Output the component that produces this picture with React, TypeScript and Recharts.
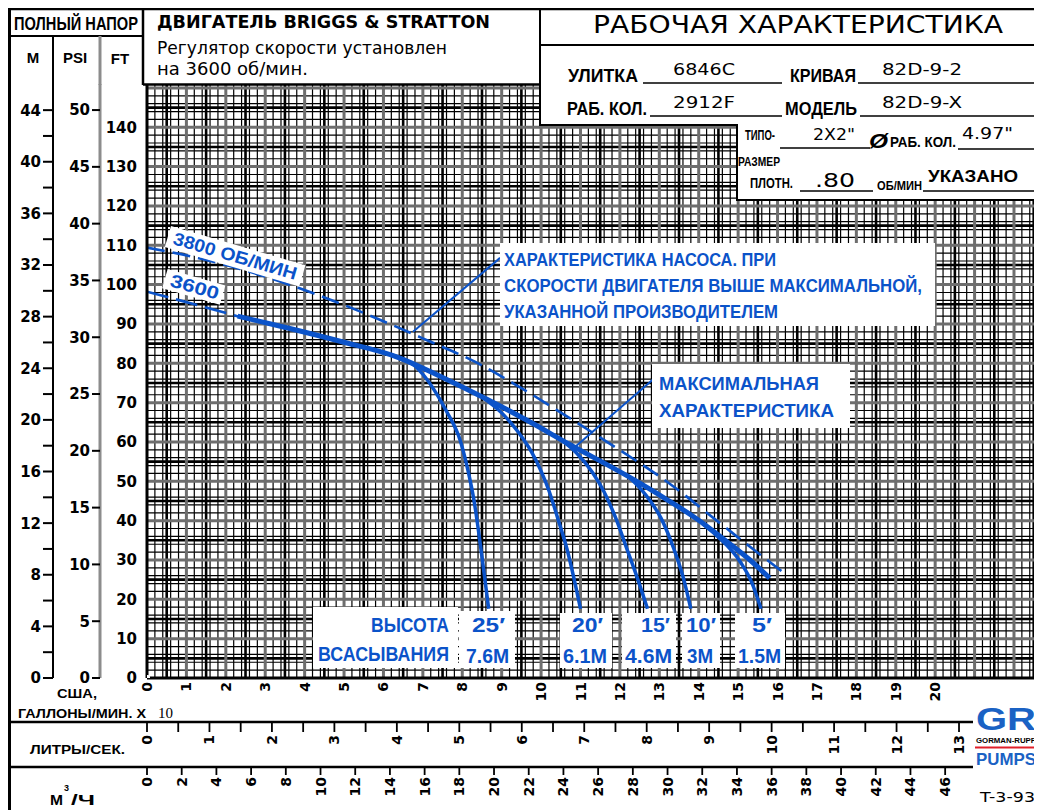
import React from "react";
import { LineChart, Line, XAxis, YAxis, CartesianGrid, ReferenceLine } from "recharts";

const W = 1034;
const H = 802;
const BLUE = "#0b53c9";
const SANS = "'Liberation Sans', Arial, sans-serif";
const DJ = "'DejaVu Sans', Verdana, sans-serif";
const SERIF = "'Liberation Serif', 'DejaVu Serif', serif";

// ---- axis ranges / unit relations ----
const FT_MAX = 151;
const GPM10_MAX = 22.66; // US GPM x 10
const FT_PER_M = 3.2808;
const FT_PER_PSI = 2.31 / 0.8; // specific gravity .80
const GPM_PER_LPS = 15.85;
const GPM_PER_M3H = 4.4029;
const LPS_MAX = (GPM10_MAX * 10) / GPM_PER_LPS;
const M3_MAX = (GPM10_MAX * 10) / GPM_PER_M3H;

// ---- tick labels ----
const ftTicks = [0, 10, 20, 30, 40, 50, 60, 70, 80, 90, 100, 110, 120, 130, 140];
const psiTicks = [0, 5, 10, 15, 20, 25, 30, 35, 40, 45, 50];
const mTicks = [0, 2, 4, 6, 8, 10, 12, 14, 16, 18, 20, 22, 24, 26, 28, 30, 32, 34, 36, 38, 40, 42, 44];
const gpmTicks = [0, 1, 2, 3, 4, 5, 6, 7, 8, 9, 10, 11, 12, 13, 14, 15, 16, 17, 18, 19, 20];
const lpsTicks = [0, 0.5, 1, 1.5, 2, 2.5, 3, 3.5, 4, 4.5, 5, 5.5, 6, 6.5, 7, 7.5, 8, 8.5, 9, 9.5, 10, 10.5, 11, 11.5, 12, 12.5, 13];
const m3Ticks = [0, 2, 4, 6, 8, 10, 12, 14, 16, 18, 20, 22, 24, 26, 28, 30, 32, 34, 36, 38, 40, 42, 44, 46];

// ---- curves: [US GPM x10, total head ft] ----
const rpm3800 = [[0, 109.4], [1.2, 107.0], [2.36, 104.0], [4.22, 97.8], [6.35, 89.2], [7.12, 85.8], [8.28, 80.6], [9.48, 73.8], [10.83, 65.4], [11.77, 59.4], [13.29, 49.2], [14.56, 39.2], [15.4, 32.6], [16.16, 26.7]];
const rpm3600Start = [[0, 98.2], [1.2, 95.0], [2.36, 91.8]];
const maxCurve = [[2.3, 92.0], [3.6, 88.9], [4.9, 85.6], [6.4, 81.4], [7.5, 76.4], [8.6, 71.0], [9.7, 65.2], [10.7, 59.5], [12.2, 51.3], [13.2, 45.3], [13.9, 40.8], [14.7, 34.8], [15.3, 30.0], [15.8, 25.4]];
const lift25 = [[6.3, 81.8], [6.8, 79.3], [7.27, 73.5], [7.6, 67.8], [7.95, 60.3], [8.15, 52.5], [8.3, 45.0], [8.5, 30.8], [8.67, 17.6]];
const lift20 = [[8.5, 71.5], [9.0, 67.4], [9.4, 62.8], [9.75, 57.6], [10.0, 52.6], [10.2, 47.6], [10.42, 40.7], [10.67, 32.3], [11.0, 17.6]];
const lift15 = [[10.5, 60.6], [10.9, 57.2], [11.3, 52.3], [11.6, 47.3], [11.9, 40.5], [12.2, 32.2], [12.45, 25.2], [12.7, 17.6]];
const lift10 = [[12.2, 51.3], [12.5, 48.4], [12.8, 44.6], [13.04, 40.7], [13.37, 32.8], [13.6, 25.8], [13.8, 17.6]];
const lift5 = [[14.1, 39.2], [14.5, 35.8], [15.07, 29.3], [15.35, 24.2], [15.58, 17.6]];

// callout leader lines [from, to] in (GPM x10, ft)
const leaders = [
  [[8.96, 106.8], [6.75, 88.0]],
  [[12.89, 76.3], [10.86, 58.7]],
];

const toPts = (a: number[][]) => a.map(([u, ft]) => ({ u, ft }));

// graph-paper rulings
const range = (n: number, f: (i: number) => number) => Array.from({ length: n }, (_, i) => f(i));
const minorX = range(113, (i) => Math.round((i + 1) * 2) / 10);
const halfX = range(23, (i) => i + 0.5);
const majorX = range(22, (i) => i + 1);
const minorY = range(75, (i) => (i + 1) * 2);
const halfY = range(15, (i) => i * 10 + 5);
const majorY = range(15, (i) => (i + 1) * 10);

const GpmTick = ({ x, y, payload }: any) => (
  <text x={x} y={y} transform={`rotate(-90 ${x} ${y})`} textAnchor="end" dy="0.36em" fontFamily={DJ} fontWeight="bold" fontSize={14} fill="#000">
    {payload.value}
  </text>
);
const LpsTick = ({ x, y, payload }: any) =>
  Number.isInteger(payload.value) ? (
    <text x={x} y={y} transform={`rotate(-90 ${x} ${y})`} textAnchor="end" dy="0.36em" fontFamily={DJ} fontWeight="bold" fontSize={14} fill="#000">
      {payload.value}
    </text>
  ) : (
    <g />
  );
const makeYTick = (step: number) => ({ x, y, payload }: any) =>
  payload.value % step === 0 ? (
    <text x={x} y={y} dy="0.36em" textAnchor="end" fontFamily={DJ} fontWeight="bold" fontSize={15} fill="#000">
      {payload.value}
    </text>
  ) : (
    <g />
  );
const FtTick = makeYTick(10);
const PsiTick = makeYTick(5);
const MTick = makeYTick(4);

const T = ({ x, y, w, size, bold, fill = "#000", family = SANS, anchor = "start", italic, children }: any) => (
  <text
    x={x}
    y={y}
    fontSize={size}
    fontWeight={bold ? "bold" : "normal"}
    fontStyle={italic ? "italic" : "normal"}
    fontFamily={family}
    fill={fill}
    textAnchor={anchor}
    textLength={w}
    lengthAdjust={w ? "spacingAndGlyphs" : undefined}
  >
    {children}
  </text>
);
const Ln = ({ x1, y1, x2, y2, w = 2, c = "#000" }: any) => <line x1={x1} y1={y1} x2={x2} y2={y2} stroke={c} strokeWidth={w} />;
const Box = ({ x, y, w, h }: any) => <rect x={x} y={y} width={w} height={h} fill="#fff" />;

const Overlay = () => (
  <svg style={{ position: "absolute", left: 0, top: 0, pointerEvents: "none" }} width={W} height={H} viewBox={`8 8 ${W} ${H}`}>
    {/* header backgrounds over the grid */}
    <Box x={541} y={9} w={502} h={116} />
    <Box x={738} y={125} w={305} h={75} />

    {/* frame lines */}
    <Ln x1={9.5} y1={8} x2={9.5} y2={810} w={3} />
    <Ln x1={8} y1={9} x2={1042} y2={9} w={2.5} />
    <Ln x1={8} y1={36} x2={143} y2={36} w={2} />
    <Ln x1={143} y1={8} x2={143} y2={85} w={2.5} />
    <Ln x1={53} y1={36} x2={53} y2={85} w={2} />
    <Ln x1={100} y1={36} x2={100} y2={85} w={3} c="#8c8c8c" />
    <Ln x1={143} y1={84.5} x2={541} y2={84.5} w={2.5} />
    <Ln x1={540} y1={8} x2={540} y2={126} w={2} />
    <Ln x1={540} y1={45} x2={1042} y2={45} w={2} />
    <Ln x1={540} y1={125} x2={738} y2={125} w={2} />
    <Ln x1={737} y1={125} x2={737} y2={201} w={2} />
    <Ln x1={737} y1={200} x2={1042} y2={200} w={2} />
    <Ln x1={8} y1={722} x2={973} y2={722} w={2.5} />
    <Ln x1={8} y1={767} x2={973} y2={767} w={2.5} />

    {/* top-left titles */}
    <T x={14} y={30} w={124} size={18} bold>ПОЛНЫЙ НАПОР</T>
    <T x={33} y={63} size={15} bold anchor="middle">M</T>
    <T x={75} y={63} size={15} bold anchor="middle">PSI</T>
    <T x={120} y={64} size={15} bold anchor="middle">FT</T>

    <T x={157} y={28} w={333} size={18} bold family={DJ}>ДВИГАТЕЛЬ BRIGGS &amp; STRATTON</T>
    <T x={157} y={54} w={290} size={17} family={DJ}>Регулятор скорости установлен</T>
    <T x={157} y={75} w={151} size={17} family={DJ}>на 3600 об/мин.</T>

    {/* right header */}
    <T x={593} y={33} w={410} size={25} family={DJ}>РАБОЧАЯ ХАРАКТЕРИСТИКА</T>
    <T x={568} y={82} w={70} size={18} bold>УЛИТКА</T>
    <Ln x1={643} y1={83} x2={782} y2={83} w={1.5} />
    <T x={673} y={75} w={62} size={16} family={DJ}>6846C</T>
    <T x={790} y={82} w={66} size={18} bold>КРИВАЯ</T>
    <Ln x1={858} y1={83} x2={1042} y2={83} w={1.5} />
    <T x={882} y={75} w={80} size={16} family={DJ}>82D-9-2</T>

    <T x={567} y={115} w={80} size={18} bold>РАБ. КОЛ.</T>
    <Ln x1={650} y1={116} x2={782} y2={116} w={1.5} />
    <T x={673} y={108} w={62} size={16} family={DJ}>2912F</T>
    <T x={785} y={115} w={72} size={18} bold>МОДЕЛЬ</T>
    <Ln x1={860} y1={116} x2={1042} y2={116} w={1.5} />
    <T x={882} y={108} w={80} size={16} family={DJ}>82D-9-X</T>

    <T x={745} y={140} w={30} size={14} bold>ТИПО-</T>
    <T x={738} y={166} w={42} size={13} bold>РАЗМЕР</T>
    <T x={813} y={140} w={42} size={16} family={DJ}>2X2"</T>
    <Ln x1={780} y1={148} x2={870} y2={148} w={1.5} />
    <T x={869} y={148} w={19} size={21} bold italic>Ø</T>
    <T x={890} y={147} w={66} size={14} bold>РАБ. КОЛ.</T>
    <T x={962} y={139} w={51} size={16} family={DJ}>4.97"</T>
    <Ln x1={958} y1={149} x2={1042} y2={149} w={1.5} />
    <T x={750} y={188} w={43} size={14} bold>ПЛОТН.</T>
    <T x={815} y={187} w={40} size={20} family={DJ}>.80</T>
    <Ln x1={800} y1={191} x2={873} y2={191} w={1.5} />
    <T x={877} y={190} w={45} size={12} bold>ОБ/МИН</T>
    <T x={928} y={182} w={90} size={17} bold>УКАЗАНО</T>
    <Ln x1={923} y1={191} x2={1042} y2={191} w={1.5} />

    {/* bottom-left captions */}
    <T x={57} y={698} w={40} size={13} bold>США,</T>
    <T x={18} y={718} w={128} size={13} bold>ГАЛЛОНЫ/МИН. X</T>
    <T x={158} y={718} size={15} family={SERIF}>10</T>
    <T x={30} y={754} w={95} size={13} bold>ЛИТРЫ/СЕК.</T>
    <T x={50} y={805} w={13} size={15} bold>M</T>
    <T x={64} y={791} size={9} bold>3</T>
    <T x={71} y={805} w={24} size={15} bold>/Ч</T>

    {/* logo */}
    <T x={976} y={730} w={60} size={32} bold fill="#1a62c4">GR</T>
    <T x={976} y={743} w={60} size={8} bold>GORMAN-RUPP</T>
    <Ln x1={975} y1={747.5} x2={1042} y2={747.5} w={2} c="#e0202a" />
    <T x={976} y={765} w={60} size={17} bold fill="#1a62c4">PUMPS</T>
    <T x={980} y={802} w={55} size={14} family={DJ}>T-3-93</T>

    {/* curve annotations */}
    <g transform="rotate(16.3 172 244)">
      <rect x={166} y={227} width={140} height={22} fill="#fff" />
      <T x={172} y={244} w={128} size={18} bold fill={BLUE}>3800 ОБ/МИН</T>
    </g>
    <g transform="rotate(16 169 286)">
      <rect x={163} y={270} width={60} height={20} fill="#fff" />
      <T x={169} y={286} w={50} size={18} bold fill={BLUE}>3600</T>
    </g>

    <Box x={500} y={243} w={435} h={83} />
    <T x={504} y={266} w={272} size={19} bold fill={BLUE}>ХАРАКТЕРИСТИКА НАСОСА. ПРИ</T>
    <T x={504} y={292} w={418} size={19} bold fill={BLUE}>СКОРОСТИ ДВИГАТЕЛЯ ВЫШЕ МАКСИМАЛЬНОЙ,</T>
    <T x={504} y={318} w={274} size={19} bold fill={BLUE}>УКАЗАННОЙ ПРОИЗВОДИТЕЛЕМ</T>

    <Box x={652} y={364} w={198} h={64} />
    <T x={659} y={390} w={160} size={19} bold fill={BLUE}>МАКСИМАЛЬНАЯ</T>
    <T x={659} y={417} w={175} size={19} bold fill={BLUE}>ХАРАКТЕРИСТИКА</T>

    {/* suction lift labels */}
    <Box x={313} y={607} w={145} h={61} />
    <Box x={459} y={611} w={56} h={57} />
    <Box x={560} y={613} w={52} h={55} />
    <Box x={622} y={613} w={54} h={55} />
    <Box x={682} y={613} w={38} h={55} />
    <Box x={735} y={613} w={50} h={55} />
    <T x={371} y={632} w={78} size={20} bold fill={BLUE}>ВЫСОТА</T>
    <T x={318} y={661} w={131} size={20} bold fill={BLUE}>ВСАСЫВАНИЯ</T>
    <T x={472} y={632} w={33} size={21} bold fill={BLUE}>25′</T>
    <T x={466} y={663} w={43} size={21} bold fill={BLUE}>7.6M</T>
    <T x={572} y={632} w={31} size={21} bold fill={BLUE}>20′</T>
    <T x={563} y={663} w={44} size={21} bold fill={BLUE}>6.1M</T>
    <T x={641} y={632} w={29} size={21} bold fill={BLUE}>15′</T>
    <T x={625} y={663} w={47} size={21} bold fill={BLUE}>4.6M</T>
    <T x={686} y={632} w={30} size={21} bold fill={BLUE}>10′</T>
    <T x={687} y={663} w={26} size={21} bold fill={BLUE}>3M</T>
    <T x={752} y={632} w={20} size={21} bold fill={BLUE}>5′</T>
    <T x={738} y={663} w={43} size={21} bold fill={BLUE}>1.5M</T>
  </svg>
);

export default function App() {
  const common = { xAxisId: "a_gpm", yAxisId: "a_ft", dataKey: "ft", dot: false, isAnimationActive: false, type: "monotone" as const, stroke: BLUE };
  return (
    <div style={{ position: "relative", width: W, height: H, background: "#fff" }}>
      <LineChart width={W} height={H} margin={{ top: 76, right: 2, bottom: 0, left: 0 }}>
        <CartesianGrid xAxisId="a_gpm" yAxisId="a_ft" verticalValues={minorX} horizontalValues={minorY} stroke="#000" strokeWidth={1.2} />
        <CartesianGrid xAxisId="a_gpm" yAxisId="a_ft" verticalValues={halfX} horizontalValues={halfY} stroke="#000" strokeWidth={2.6} />
        <CartesianGrid xAxisId="a_gpm" yAxisId="a_ft" verticalValues={majorX} horizontalValues={majorY} stroke="#6e6e6e" strokeWidth={3} />

        <XAxis xAxisId="a_gpm" type="number" dataKey="u" domain={[0, GPM10_MAX]} ticks={gpmTicks} interval={0} allowDataOverflow height={44}
          axisLine={{ stroke: "#000", strokeWidth: 3 }} tickLine={false} tickSize={0} tickMargin={4} tick={GpmTick} />
        <XAxis xAxisId="b_lps" type="number" dataKey="u" domain={[0, LPS_MAX]} ticks={lpsTicks} interval={0} allowDataOverflow height={45}
          axisLine={false} tickLine={{ stroke: "#000", strokeWidth: 1.8 }} tickSize={10} tickMargin={3} tick={LpsTick} />
        <XAxis xAxisId="c_m3" type="number" dataKey="u" domain={[0, M3_MAX]} ticks={m3Ticks} interval={0} allowDataOverflow height={43}
          axisLine={false} tickLine={{ stroke: "#000", strokeWidth: 1.8 }} tickSize={8} tickMargin={2} tick={GpmTick} />

        <YAxis yAxisId="a_ft" type="number" domain={[0, FT_MAX]} ticks={ftTicks} interval={0} allowDataOverflow width={47}
          axisLine={{ stroke: "#000", strokeWidth: 3 }} tickLine={false} tickSize={6} tickMargin={4} tick={FtTick} />
        <YAxis yAxisId="b_psi" type="number" domain={[0, FT_MAX / FT_PER_PSI]} ticks={psiTicks} interval={0} allowDataOverflow width={47}
          axisLine={{ stroke: "#8c8c8c", strokeWidth: 3 }} tickLine={{ stroke: "#000", strokeWidth: 2 }} tickSize={8} tickMargin={2} tick={PsiTick} />
        <YAxis yAxisId="c_m" type="number" domain={[0, FT_MAX / FT_PER_M]} ticks={mTicks} interval={0} allowDataOverflow width={45}
          axisLine={{ stroke: "#000", strokeWidth: 2 }} tickLine={{ stroke: "#000", strokeWidth: 2 }} tickSize={10} tickMargin={2} tick={MTick} />

        {leaders.map((seg, i) => (
          <ReferenceLine key={i} xAxisId="a_gpm" yAxisId="a_ft" segment={[{ x: seg[0][0], y: seg[0][1] }, { x: seg[1][0], y: seg[1][1] }]}
            stroke={BLUE} strokeWidth={2} ifOverflow="visible" />
        ))}

        {/* anchor series so the metric flow axes are registered with the chart */}
        <Line xAxisId="b_lps" yAxisId="a_ft" data={[{ u: 0, ft: 0 }]} dataKey="ft" stroke="none" dot={false} isAnimationActive={false} />
        <Line xAxisId="c_m3" yAxisId="a_ft" data={[{ u: 0, ft: 0 }]} dataKey="ft" stroke="none" dot={false} isAnimationActive={false} />

        <Line {...common} data={toPts(rpm3800)} strokeWidth={2.6} strokeDasharray="18 8" />
        <Line {...common} data={toPts(rpm3600Start)} strokeWidth={2.6} strokeDasharray="22 8" />
        <Line {...common} data={toPts(lift25)} strokeWidth={3.5} />
        <Line {...common} data={toPts(lift20)} strokeWidth={3.5} />
        <Line {...common} data={toPts(lift15)} strokeWidth={3.5} />
        <Line {...common} data={toPts(lift10)} strokeWidth={3.5} />
        <Line {...common} data={toPts(lift5)} strokeWidth={3.5} />
        <Line {...common} data={toPts(maxCurve)} strokeWidth={5} />
      </LineChart>
      <Overlay />
    </div>
  );
}
